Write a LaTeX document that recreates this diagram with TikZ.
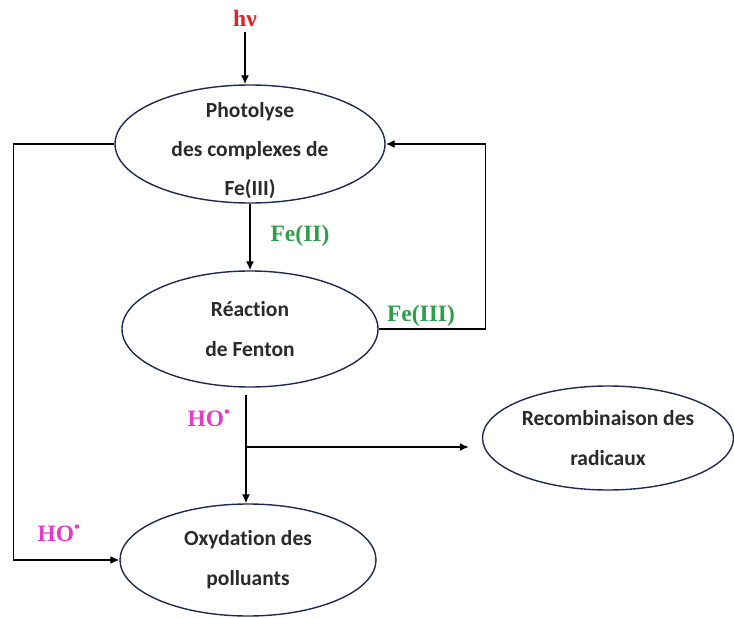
\documentclass[tikz,border=0pt]{standalone}
\usepackage{fontspec}
\setmainfont{Carlito}[Ligatures={NoCommon}]
\newfontfamily\lblfont{Liberation Serif}
\usetikzlibrary{shapes.geometric,arrows.meta}
\definecolor{navy}{HTML}{1F2A50}
\definecolor{txtgray}{HTML}{2A2A2A}
\definecolor{hvred}{HTML}{E02424}
\definecolor{fegreen}{HTML}{2E9E4A}
\definecolor{homag}{HTML}{E43CC4}
\tikzset{
  ell/.style={ellipse, draw=navy, line width=1.4pt, inner sep=0pt, align=center,
    font=\fontsize{21.5}{40}\selectfont\bfseries, text=txtgray},
  elltext/.style={align=center, inner sep=0pt,
    font=\fontsize{21.5}{39}\selectfont\bfseries, text=txtgray},
  arr/.style={line width=1.4pt, -{Latex[length=9pt,width=8pt]}},
  lbl/.style={font=\lblfont\fontsize{23.5}{25}\selectfont\bfseries, inner sep=0pt},
}
\begin{document}
\begin{tikzpicture}[x=1pt,y=-1pt]
\useasboundingbox (0,0) rectangle (734,618);
\node[ell, minimum width=270pt, minimum height=118pt] (e1) at (250,144) {};
\node[elltext] (t1) at (250,151) {Photolyse\\des complexes de\\Fe(III)};
\node[ell, minimum width=256pt, minimum height=116pt] (e2) at (250,329) {Réaction\\de Fenton};
\node[ell, minimum width=251pt, minimum height=104pt] (e3) at (608,438) {Recombinaison des\\radicaux};
\node[ell, minimum width=256pt, minimum height=112pt] (e4) at (248,560) {Oxydation des\\polluants};
\node[lbl, text=hvred] (hv) at (245,18) {hν};
\node[lbl, text=fegreen] (fe2) at (300,236) {Fe(II)};
\node[lbl, text=fegreen] (fe3) at (421,316) {Fe(III)};
\node[lbl, text=homag] (ho1) at (209,418) {HO\textsuperscript{•}};
\node[lbl, text=homag] (ho2) at (59,533) {HO\textsuperscript{•}};
\coordinate (s) at (246,395);
\coordinate (b) at (246,447);
\draw[arr, shorten <=6pt] (hv.south) -- (hv.south |- e1.north);
\draw[arr] (e1.west) -- ++(-101,0) |- (e4.west);
\draw[arr] (e1.south) -- (e2.north);
\draw[arr] (e2.east) -- ++(107,0) |- (e1.east);
\draw[arr] (s) -- (s |- e4.north);
\draw[arr, shorten >=13pt] (b) -- (b -| e3.west);
\end{tikzpicture}
\end{document}
